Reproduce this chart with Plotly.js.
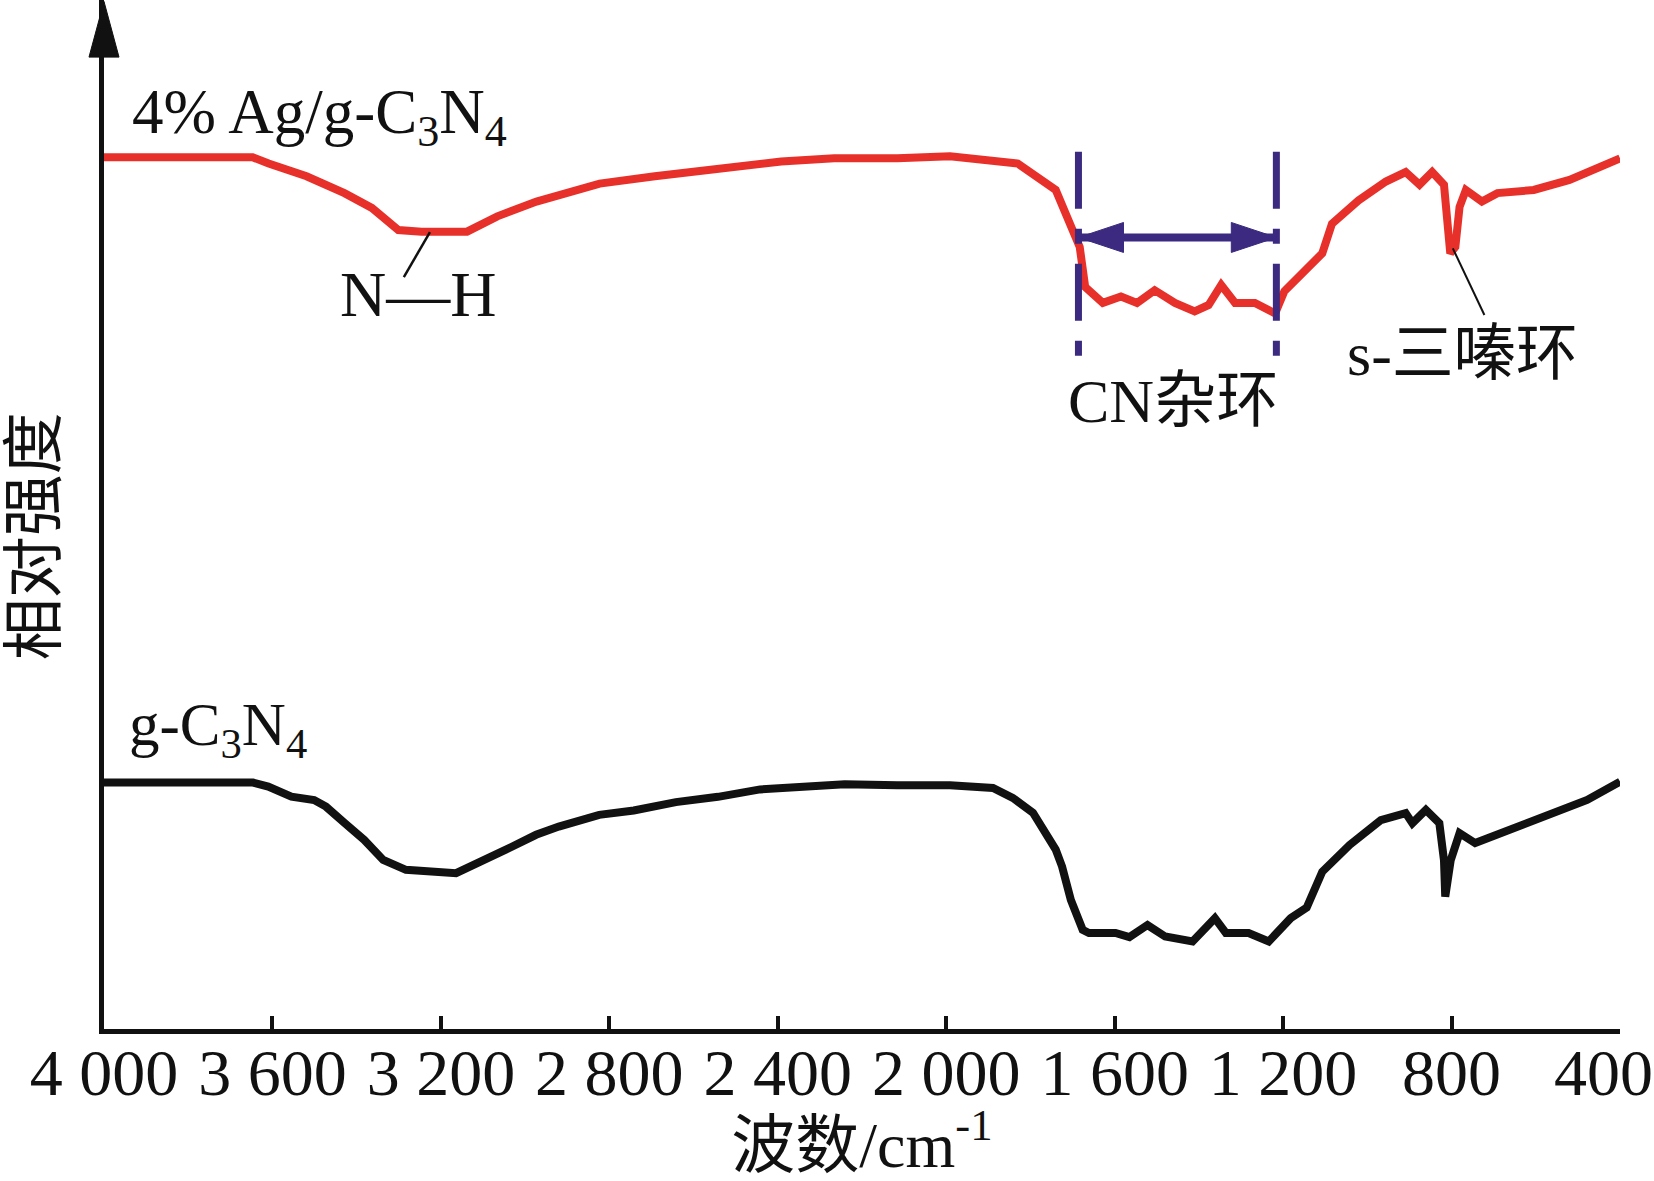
<!DOCTYPE html>
<html>
<head>
<meta charset="utf-8">
<script src="https://cdn.plot.ly/plotly-3.0.1.min.js"></script>
<style>html,body{margin:0;padding:0;background:#fff;}#chart{width:1654px;height:1181px;}</style>
</head>
<body>
<div id="chart"></div>
<script>
// ---- data ----
const tickVals = [4000, 3600, 3200, 2800, 2400, 2000, 1600, 1200, 800, 400];
const tickText = ["4 000", "3 600", "3 200", "2 800", "2 400", "2 000", "1 600", "1 200", "800", "400\u00a0\u00a0"];

// 4% Ag/g-C3N4 (red, upper curve)
const redWn = [4000,3647,3609,3519,3429,3364,3301,3246,3138,3066,2973,2883,2823,2692,2592,2492,2392,2266,2116,1991,1830,1740,1703,1683,1670,1628,1585,1547,1505,1457,1410,1377,1347,1314,1267,1219,1197,1139,1107,1084,1021,956,909,876,846,818,808,803,791,781,766,728,691,605,520,400];
const redVal = [82.6,82.6,82.0,80.8,79.2,77.8,75.7,75.55,75.55,77.0,78.4,79.5,80.1,80.8,81.3,81.8,82.2,82.5,82.5,82.7,82.0,79.5,75.7,74.1,70.3,68.8,69.4,68.8,70.0,68.8,68.0,68.6,70.5,68.8,68.8,67.8,69.9,72.2,73.5,76.3,78.5,80.3,81.2,80.0,81.2,80.0,76.3,73.5,74.1,77.9,79.5,78.4,79.2,79.5,80.45,82.5];

// g-C3N4 (black, lower curve)
const blackWn = [4000,3646,3610,3555,3501,3473,3428,3382,3337,3283,3164,3110,3047,2974,2920,2824,2742,2642,2542,2442,2317,2241,2116,1991,1889,1842,1794,1740,1725,1704,1676,1661,1598,1565,1522,1480,1415,1362,1336,1282,1234,1182,1144,1107,1042,968,909,893,861,829,818,815,802,781,744,659,553,478,400];
const blackVal = [23.35,23.35,22.97,22.02,21.7,21.07,19.5,17.92,16.02,15.08,14.76,15.86,16.97,18.4,19.18,20.29,20.7,21.5,22.0,22.7,23.0,23.2,23.1,23.1,22.84,21.9,20.5,17.0,15.4,12.23,9.4,9.1,9.1,8.7,9.85,8.76,8.3,10.5,9.1,9.1,8.3,10.5,11.5,14.9,17.44,19.8,20.46,19.5,20.76,19.5,16.0,12.55,16.0,18.55,17.62,18.86,20.46,21.7,23.44];

// text labels
const seriesNames = ["4% Ag/g-C<sub>3</sub>N<sub>4</sub>", "g-C<sub>3</sub>N<sub>4</sub>"];
const bandLabels = ["N—H", "CN杂环", "s-三嗪环"];
const xTitle = "波数/cm<sup>-1</sup>";
const yTitle = "相对强度";

// CN heterocycle band limits (cm-1)
const cnBand = [1686, 1216];

// ---- styling ----
const FONT = "'Liberation Serif', 'Times New Roman', 'Noto Sans CJK SC', serif";
const RED = "#e8302a";
const BLUE = "#3b2a80";
const INK = "#111111";

const traces = [
  {x: redWn, y: redVal, type: "scatter", mode: "lines", name: "4% Ag/g-C3N4",
   line: {color: RED, width: 8}, hoverinfo: "skip"},
  {x: blackWn, y: blackVal, type: "scatter", mode: "lines", name: "g-C3N4",
   line: {color: INK, width: 8}, hoverinfo: "skip"}
];

const bandTop = 83.12, bandBottom = 63.67, arrowY = 75.0;
const headLen = 107, headHalf = 1.42;

const shapes = [
  // y-axis arrow head (paper coords so it is not clipped)
  {type: "path", xref: "paper", yref: "paper",
   path: "M 0,0.9985 L -0.0099,0.9445 L 0.0099,0.9445 Z",
   fillcolor: INK, line: {color: INK, width: 1}},
  // dash-dot band limits
  {type: "line", x0: cnBand[0], x1: cnBand[0], y0: bandTop, y1: bandBottom,
   line: {color: BLUE, width: 7, dash: "57px,20px,15px,20px"}},
  {type: "line", x0: cnBand[1], x1: cnBand[1], y0: bandTop, y1: bandBottom,
   line: {color: BLUE, width: 7, dash: "57px,20px,15px,20px"}},
  // double arrow shaft
  {type: "line", x0: cnBand[0], x1: cnBand[1], y0: arrowY, y1: arrowY,
   line: {color: BLUE, width: 8}},
  // arrow heads
  {type: "path",
   path: `M ${cnBand[0]},${arrowY} L ${cnBand[0]-headLen},${arrowY+headHalf} L ${cnBand[0]-headLen},${arrowY-headHalf} Z`,
   fillcolor: BLUE, line: {color: BLUE, width: 1}},
  {type: "path",
   path: `M ${cnBand[1]},${arrowY} L ${cnBand[1]+headLen},${arrowY+headHalf} L ${cnBand[1]+headLen},${arrowY-headHalf} Z`,
   fillcolor: BLUE, line: {color: BLUE, width: 1}},
  // leader lines
  {type: "line", x0: 3226, y0: 75.5, x1: 3288, y1: 71.25, line: {color: INK, width: 2.5}},
  {type: "line", x0: 797, y0: 73.97, x1: 722, y1: 67.65, line: {color: INK, width: 2}}
];

const annotations = [
  {x: 3938, y: 86.5, xref: "x", yref: "y", text: seriesNames[0], showarrow: false,
   xanchor: "left", yanchor: "middle", font: {family: FONT, size: 63, color: INK}},
  {x: 3945, y: 28.45, xref: "x", yref: "y", text: seriesNames[1], showarrow: false,
   xanchor: "left", yanchor: "middle", font: {family: FONT, size: 61, color: INK}},
  {x: 3254, y: 69.6, xref: "x", yref: "y", text: bandLabels[0], showarrow: false,
   xanchor: "center", yanchor: "middle", font: {family: FONT, size: 64, color: INK}},
  {x: 1461, y: 59.5, xref: "x", yref: "y", text: bandLabels[1], showarrow: false,
   xanchor: "center", yanchor: "middle", font: {family: FONT, size: 62, color: INK}},
  {x: 775, y: 64.0, xref: "x", yref: "y", text: bandLabels[2], showarrow: false,
   xanchor: "center", yanchor: "middle", font: {family: FONT, size: 62, color: INK}},
  // y-axis title
  {x: -0.0455, y: 0.479, xref: "paper", yref: "paper", text: yTitle, showarrow: false,
   textangle: -90, xanchor: "center", yanchor: "middle",
   font: {family: FONT, size: 62, color: INK}}
];

const layout = {
  width: 1654, height: 1181,
  margin: {l: 104, r: 34, t: 0, b: 152, pad: 0},
  paper_bgcolor: "#ffffff", plot_bgcolor: "#ffffff",
  showlegend: false,
  font: {family: FONT, color: INK},
  xaxis: {
    range: [4000, 400], tickmode: "array", tickvals: tickVals, ticktext: tickText,
    ticks: "inside", ticklen: 13, tickwidth: 4, tickcolor: INK,
    ticklabelstandoff: -18, ticklabeloverflow: "allow",
    showline: true, linewidth: 5, linecolor: INK,
    showgrid: false, zeroline: false, automargin: false,
    tickfont: {family: FONT, size: 66, color: INK},
    title: {text: xTitle, font: {family: FONT, size: 64, color: INK}, standoff: 24}
  },
  yaxis: {
    range: [0, 97.5], showticklabels: false, ticks: "",
    showline: true, linewidth: 5, linecolor: INK,
    showgrid: false, zeroline: false, automargin: false
  },
  shapes: shapes,
  annotations: annotations
};

Plotly.newPlot("chart", traces, layout, {staticPlot: true, displayModeBar: false});
</script>
</body>
</html>
